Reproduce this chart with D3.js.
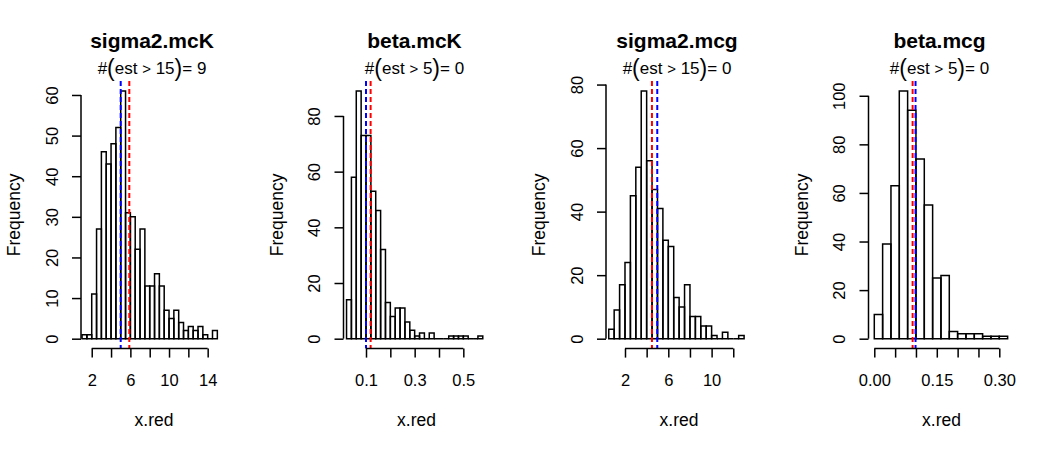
<!DOCTYPE html>
<html lang="en">
<head>
    <meta charset="UTF-8">
    <title>x.red histograms</title>
    <script src="https://cdn.jsdelivr.net/npm/d3@7"></script>
    <style>
        body { margin: 0; background: #fff; }
        text { font-family: "Liberation Sans", Arial, sans-serif; fill: #000; }
    </style>
</head>
<body>
    <div class="chart"></div>
<script>
    // one entry per panel
    const titles = ['sigma2.mcK', 'beta.mcK', 'sigma2.mcg', 'beta.mcg']
    const thresholds = [15, 5, 15, 5]
    const exceedCounts = [9, 0, 0, 0]
    const binStarts = [1, 0.02, 0.5, 0]
    const binWidths = [0.5, 0.02, 0.5, 0.02]

    const countsSigmaK = [1, 1, 11, 27, 46, 43, 48, 52, 61, 31, 30, 22, 27, 13, 13, 16, 13, 7, 5, 7, 4, 2, 3, 2, 3, 1, 0, 2]
    const countsBetaK = [14, 58, 89, 73, 73, 53, 46, 32, 13, 8, 11, 11, 6, 3, 1, 2, 0, 2, 0, 0, 0, 1, 1, 1, 1, 0, 0, 1]
    const countsSigmaG = [3, 9, 17, 24, 45, 54, 78, 56, 47, 41, 31, 29, 13, 10, 17, 7, 7, 4, 4, 1, 0, 2, 0, 0, 1]
    const countsBetaG = [10, 39, 63, 102, 94, 74, 55, 25, 26, 3, 2, 2, 2, 1, 1, 1]
    const counts = [countsSigmaK, countsBetaK, countsSigmaG, countsBetaG]

    const blueLines = [5.0, 0.100, 4.98, 0.099]
    const redLines = [5.89, 0.119, 4.49, 0.092]

    const xTicks = [
        [2, 4, 6, 8, 10, 12, 14],
        [0.1, 0.2, 0.3, 0.4, 0.5],
        [2, 4, 6, 8, 10, 12],
        [0, 0.05, 0.1, 0.15, 0.2, 0.25, 0.3]
    ]
    const xTickLabels = [
        ['2', '', '6', '', '10', '', '14'],
        ['0.1', '', '0.3', '', '0.5'],
        ['2', '', '6', '', '10', ''],
        ['0.00', '', '', '0.15', '', '', '0.30']
    ]
    const yTicks = [
        [0, 10, 20, 30, 40, 50, 60],
        [0, 20, 40, 60, 80],
        [0, 20, 40, 60, 80],
        [0, 20, 40, 60, 80, 100]
    ]

    // layout
    const width = 1050
    const height = 450
    const panelW = width / 4
    const plot = { left: 81, right: 227, top: 81, bottom: 348.6 }
    const xlims = [[0.89, 16.0], [0.0075, 0.6076], [0.246, 13.73], [-0.0139, 0.3365]]

    const svg = d3.select('.chart')
        .append('svg')
        .attr('width', width)
        .attr('height', height)

    function drawPanel(i) {
        const g = svg.append('g').attr('transform', `translate(${i * panelW}, 0)`)
        const data = counts[i]
        const x = d3.scaleLinear().domain(xlims[i]).range([plot.left, plot.right])
        const ymax = d3.max(data)
        const y = d3.scaleLinear().domain([-0.04 * ymax, 1.04 * ymax]).range([plot.bottom, plot.top])

        // bars (paths so that empty bins still show as a flat line)
        g.selectAll('.bar')
            .data(data)
            .enter()
            .append('path')
            .attr('class', 'bar')
            .attr('d', (d, j) => {
                const x0 = x(binStarts[i] + j * binWidths[i])
                const x1 = x(binStarts[i] + (j + 1) * binWidths[i])
                return `M${x0},${y(0)}H${x1}V${y(d)}H${x0}Z`
            })
            .attr('fill', 'none')
            .attr('stroke', '#000')
            .attr('stroke-width', 1.5)

        // dashed reference lines
        const vlines = [[blueLines[i], '#0000ff'], [redLines[i], '#ff0000']]
        g.selectAll('.vline')
            .data(vlines)
            .enter()
            .append('line')
            .attr('class', 'vline')
            .attr('x1', d => x(d[0]))
            .attr('x2', d => x(d[0]))
            .attr('y1', plot.top)
            .attr('y2', plot.bottom)
            .attr('stroke', d => d[1])
            .attr('stroke-width', 2)
            .attr('stroke-dasharray', '5,3')

        // x axis
        const ticks = xTicks[i]
        const xAxis = d3.axisBottom(x)
            .tickValues(ticks)
            .tickSize(9)
            .tickFormat((d, j) => xTickLabels[i][j])
        const xg = g.append('g')
            .attr('transform', `translate(0, ${plot.bottom})`)
            .call(xAxis)
        xg.select('.domain').remove()
        xg.append('line')
            .attr('x1', x(ticks[0])).attr('x2', x(ticks[ticks.length - 1]))
            .attr('stroke', '#000').attr('stroke-width', 1.5)
        xg.selectAll('.tick line').attr('stroke-width', 1.5)
        xg.selectAll('.tick text')
            .attr('y', 37.5)
            .attr('dy', null)
            .attr('font-size', 16.5)
            .attr('font-family', null)

        // y axis
        const yt = yTicks[i]
        const yAxis = d3.axisLeft(y).tickValues(yt).tickSize(9)
        const yg = g.append('g')
            .attr('transform', `translate(${plot.left}, 0)`)
            .call(yAxis)
        yg.select('.domain').remove()
        yg.append('line')
            .attr('y1', y(yt[0])).attr('y2', y(yt[yt.length - 1]))
            .attr('stroke', '#000').attr('stroke-width', 1.5)
        yg.selectAll('.tick line').attr('stroke-width', 1.5)
        yg.selectAll('.tick text')
            .attr('transform', 'rotate(-90)')
            .attr('x', 0)
            .attr('y', -23.5)
            .attr('dy', null)
            .attr('text-anchor', 'middle')
            .attr('font-size', 16.5)
            .attr('font-family', null)

        const cx = (plot.left + plot.right) / 2 - 2

        g.append('text')
            .attr('x', cx)
            .attr('y', 48)
            .attr('text-anchor', 'middle')
            .attr('font-size', 21)
            .attr('font-weight', 'bold')
            .text(titles[i])

        const sub = g.append('text')
            .attr('x', cx)
            .attr('y', 73.5)
            .attr('text-anchor', 'middle')
            .attr('font-size', 17)
        sub.append('tspan').text('#')
        sub.append('tspan').attr('font-size', 23).attr('dy', 2).text('(')
        sub.append('tspan').attr('dy', -2).text('est ')
        sub.append('tspan').attr('font-size', 15).text('>')
        sub.append('tspan').text(' ' + thresholds[i])
        sub.append('tspan').attr('font-size', 23).attr('dy', 2).text(')')
        sub.append('tspan').attr('dy', -2).text('= ' + exceedCounts[i])

        g.append('text')
            .attr('transform', `translate(${plot.left - 61}, ${(plot.top + plot.bottom) / 2}) rotate(-90)`)
            .attr('text-anchor', 'middle')
            .attr('font-size', 17.5)
            .text('Frequency')

        g.append('text')
            .attr('x', (plot.left + plot.right) / 2)
            .attr('y', 426)
            .attr('text-anchor', 'middle')
            .attr('font-size', 17.5)
            .text('x.red')
    }

    titles.forEach((t, i) => drawPanel(i))
</script>
</body>
</html>
